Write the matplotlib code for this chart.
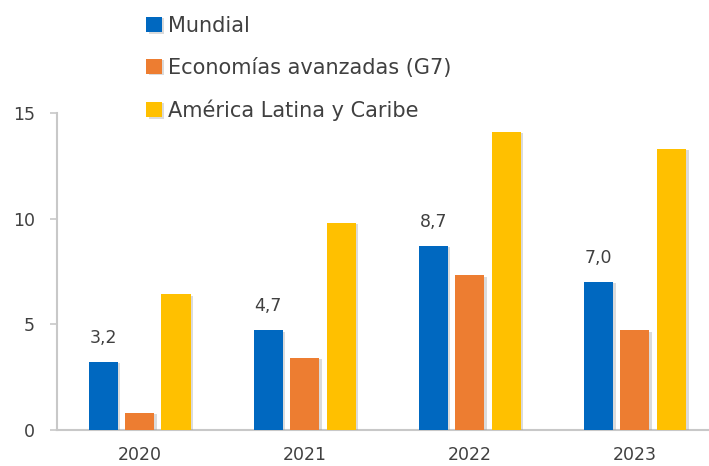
import numpy as np
import matplotlib
matplotlib.use("Agg")
import matplotlib.pyplot as plt
import matplotlib.patheffects as pe

# Datos
anios = ["2020", "2021", "2022", "2023"]
mundial = [3.2, 4.7, 8.7, 7.0]
g7 = [0.8, 3.4, 7.3, 4.7]
latam = [6.4, 9.8, 14.1, 13.3]
etiquetas_mundial = ["3,2", "4,7", "8,7", "7,0"]

series = [
    ("Mundial", mundial, "#0068C0"),
    ("Economías avanzadas (G7)", g7, "#ED7D31"),
    ("América Latina y Caribe", latam, "#FFC000"),
]

plt.rcParams['font.family'] = ['DejaVu Sans']
texto = "#404040"
gris = "#C8C8C8"

fig = plt.figure(figsize=(7.09, 4.66), dpi=100)
ax = fig.add_axes([0.0804, 0.0783, 0.9196, 0.6792])

x = np.arange(len(anios))
ancho = 0.176
desp = 0.221
sombra = [pe.SimplePatchShadow(offset=(2, -1), shadow_rgbFace="#999999", alpha=0.35), pe.Normal()]

for i, (nombre, valores, color) in enumerate(series):
    barras = ax.bar(x + (i - 1) * desp, valores, ancho, color=color, label=nombre, zorder=3)
    for b in barras:
        b.set_path_effects(sombra)

for xi, v, t in zip(x, mundial, etiquetas_mundial):
    ax.annotate(t, (xi - desp, v), xytext=(0, 11), textcoords="offset points",
                ha="center", va="bottom", fontsize=12.5, color=texto)

ax.set_xlim(-0.5, 3.45)
ax.set_ylim(0, 15)
ax.set_yticks([0, 5, 10, 15])
ax.set_xticks(x)
ax.set_xticklabels(anios)

for s in ["top", "right"]:
    ax.spines[s].set_visible(False)
for s in ["left", "bottom"]:
    ax.spines[s].set_color(gris)
    ax.spines[s].set_linewidth(1.5)

ax.tick_params(axis="y", length=5, width=1.2, color=gris, labelsize=12.5, labelcolor=texto, pad=11)
ax.tick_params(axis="x", length=0, labelsize=12.5, labelcolor=texto, pad=12)

fig.legend(loc="upper left", bbox_to_anchor=(146 / 709, 1 - 16 / 466), frameon=False,
           fontsize=15, labelcolor=texto, handlelength=0.75, handleheight=0.75,
           handletextpad=0.3, labelspacing=1.04, borderaxespad=0, borderpad=0)

fig.savefig("out.png", dpi=100)
